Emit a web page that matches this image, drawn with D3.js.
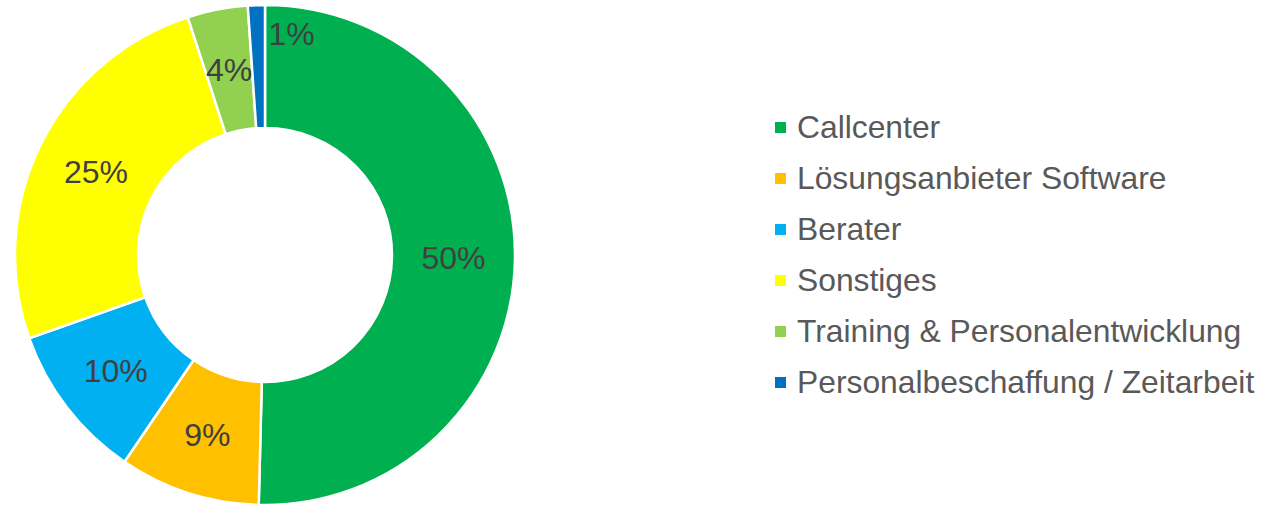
<!DOCTYPE html>
<html>
<head>
<meta charset="utf-8">
<script src="https://cdn.jsdelivr.net/npm/d3@7"></script>
<style>
  body { margin: 0; background: #fff; }
  svg { display: block; font-family: "Liberation Sans", Arial, sans-serif; }
</style>
</head>
<body>
<div id="chart"></div>
<script>
var categories = ['Callcenter', 'Lösungsanbieter Software', 'Berater', 'Sonstiges',
                  'Training & Personalentwicklung', 'Personalbeschaffung / Zeitarbeit'];
var values = [50.4, 9.1, 10.1, 25.4, 3.9, 1.1];
var colors = ['#00B050', '#FFC000', '#00B0F0', '#FFFF00', '#92D050', '#0070C0'];

var width = 1286, height = 505;
var cx = 265, cy = 255, outer = 250, inner = 127;

var svg = d3.select('#chart').append('svg')
    .attr('width', width)
    .attr('height', height);

var color = d3.scaleOrdinal().domain(categories).range(colors);

var data = categories.map((c, i) => ({ name: c, value: values[i] }));
var total = d3.sum(values);

var pie = d3.pie().value(d => d.value).sort(null);
var arc = d3.arc().innerRadius(inner).outerRadius(outer);
var labelArc = d3.arc().innerRadius((inner + outer) / 2).outerRadius((inner + outer) / 2);
// tiny slices get their label pushed outward so they don't collide
var smallArc = d3.arc().innerRadius(outer - 28).outerRadius(outer - 28);

var g = svg.append('g').attr('transform', `translate(${cx},${cy})`);

g.selectAll('path')
    .data(pie(data))
    .enter()
    .append('path')
      .attr('d', arc)
      .attr('fill', d => color(d.data.name))
      .attr('stroke', '#fff')
      .attr('stroke-width', 2.5);

g.selectAll('text')
    .data(pie(data))
    .enter()
    .append('text')
      .attr('transform', function (d) {
          var small = d.data.value / total < 0.02;
          return `translate(${(small ? smallArc : labelArc).centroid(d)})`;
      })
      .attr('text-anchor', d => d.data.value / total < 0.02 ? 'start' : 'middle')
      .attr('dx', d => d.data.value / total < 0.02 ? 11 : 0)
      .attr('dy', '0.36em')
      .attr('font-size', 32)
      .attr('fill', '#404040')
      .text(d => Math.round(d.data.value / total * 100) + '%');

// legend
var legend = svg.append('g').attr('transform', 'translate(775,127)');
var rows = legend.selectAll('g')
    .data(categories)
    .enter()
    .append('g')
      .attr('transform', (d, i) => `translate(0,${i * 51})`);

rows.append('rect')
    .attr('x', 0)
    .attr('y', -5)
    .attr('width', 11)
    .attr('height', 11)
    .attr('fill', d => color(d));

rows.append('text')
    .attr('x', 22)
    .attr('dy', '0.36em')
    .attr('font-size', 31.8)
    .attr('fill', '#595959')
    .text(d => d);
</script>
</body>
</html>
